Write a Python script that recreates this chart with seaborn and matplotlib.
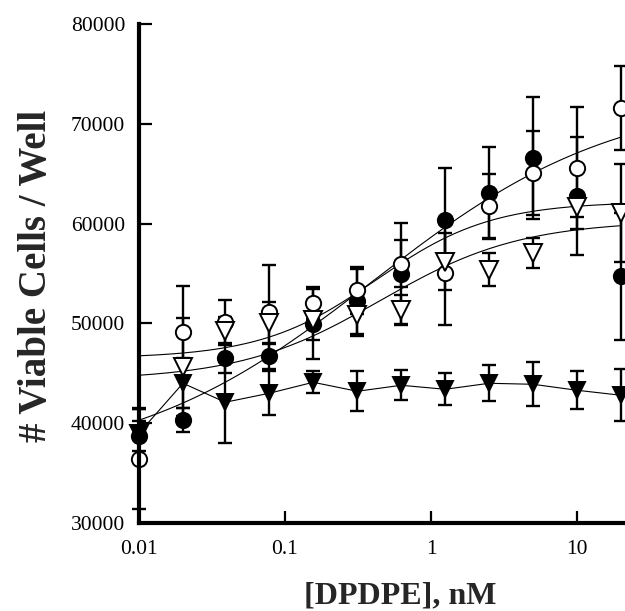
import numpy as np
import pandas as pd
import matplotlib
matplotlib.use("Agg")
import matplotlib.pyplot as plt
import seaborn as sns
from matplotlib.ticker import FixedLocator, FixedFormatter, NullLocator

# [DPDPE] concentrations, nM
conc = [0.01, 0.02, 0.039, 0.078, 0.156, 0.3125, 0.625, 1.25, 2.5, 5, 10, 20]

# filled circles
filled_circle = [38700, 40300, 46500, 46700, 49900, 52200, 55000, 60400, 63100, 66600, 62800, 54700]
filled_circle_err = [1500, 1200, 1500, 1300, 3500, 3300, 5100, 5200, 4600, 6100, 5900, 6400]
# open circles
open_circle = [36400, 49100, 50100, 51100, 52000, 53300, 56000, 55100, 61800, 65100, 65600, 71600]
open_circle_err = [5000, 4600, 2200, 4800, 1600, 2400, 2400, 5300, 3200, 4200, 6100, 4200]
# open triangles
open_tri = [38900, 45600, 49200, 50000, 50300, 50800, 51300, 56200, 55400, 57100, 61700, 61100]
open_tri_err = [2500, 4900, 1400, 2100, 2000, 2100, 1500, 2900, 1700, 1500, 1000, 4900]
# filled triangles
filled_tri = [39000, 44000, 42100, 43000, 44100, 43200, 43800, 43400, 44000, 43900, 43300, 42800]
filled_tri_err = [2500, 2500, 4100, 2200, 1100, 2000, 1500, 1600, 1800, 2200, 1900, 2600]

# sigmoid fit parameters: bottom, top, EC50 (nM), hill slope
fit_filled_circle = (35500, 73000, 0.40, 0.52)
fit_open_circle = (46500, 62200, 0.42, 1.1)
fit_open_tri = (44300, 60300, 0.45, 0.9)

x_ticks = [0.01, 0.1, 1, 10]
x_tick_labels = ["0.01", "0.1", "1", "10"]
y_ticks = [30000, 40000, 50000, 60000, 70000, 80000]

sns.set_style("ticks")
plt.rcParams['font.family'] = ['Liberation Serif', 'DejaVu Serif']

fig = plt.figure(figsize=(6.25, 6.11), dpi=100)
ax = fig.add_axes([139 / 625, 88 / 611, 584 / 625, 499 / 611])
ax.set_xscale('log')

# fitted curves
grid = np.logspace(np.log10(conc[0]), np.log10(conc[-1]), 200)
for bottom, top, ec50, hill in [fit_filled_circle, fit_open_circle, fit_open_tri]:
    curve = bottom + (top - bottom) / (1 + (ec50 / grid) ** hill)
    sns.lineplot(x=grid, y=curve, color='black', linewidth=0.8, ax=ax, sort=False)

# filled triangles are joined point to point
sns.lineplot(x=conc, y=filled_tri, color='black', linewidth=0.8, ax=ax, sort=False)

series = [
    (filled_circle, filled_circle_err, 'o', 'black', 11),
    (open_circle, open_circle_err, 'o', 'white', 11),
    (open_tri, open_tri_err, 'v', 'white', 12.5),
    (filled_tri, filled_tri_err, 'v', 'black', 12),
]
for vals, err, marker, face, size in series:
    ax.errorbar(conc, vals, yerr=err, fmt='none', ecolor='black', elinewidth=1.7,
                capsize=5, capthick=1.7, clip_on=False, zorder=3)
for vals, err, marker, face, size in series:
    ax.plot(conc, vals, linestyle='none', marker=marker, markersize=size,
            markerfacecolor=face, markeredgecolor='black', markeredgewidth=1.4,
            clip_on=False, zorder=4)

ax.set_xlim(0.01, 100)
ax.set_ylim(30000, 80000)
ax.xaxis.set_major_locator(FixedLocator(x_ticks))
ax.xaxis.set_major_formatter(FixedFormatter(x_tick_labels))
ax.xaxis.set_minor_locator(NullLocator())
ax.set_yticks(y_ticks)
ax.set_yticklabels([str(v) for v in y_ticks])

ax.tick_params(axis='both', direction='in', length=9, width=1.6, labelsize=15.5, colors='black')
ax.tick_params(axis='x', pad=12)
ax.tick_params(axis='y', pad=10)
sns.despine(ax=ax)
for side in ['left', 'bottom']:
    ax.spines[side].set_linewidth(3)
    ax.spines[side].set_color('black')
    ax.spines[side].set_zorder(5)

fig.text(400 / 625, 1 - 596 / 611, '[DPDPE], nM', ha='center', va='center',
         fontsize=23, fontweight='bold')
fig.text(37 / 625, 1 - 276 / 611, '# Viable Cells / Well', ha='center', va='center',
         rotation=90, fontsize=28, fontweight='bold')

fig.savefig('out.png', dpi=100)
